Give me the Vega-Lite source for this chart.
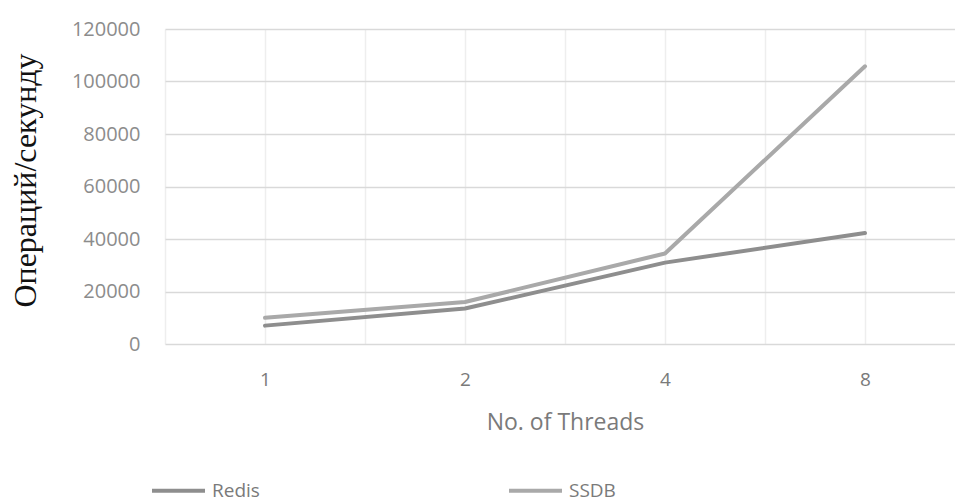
{
  "$schema": "https://vega.github.io/schema/vega-lite/v6.json",
  "autosize": "none",
  "width": 800,
  "height": 315,
  "padding": {"left": 165, "top": 29, "right": 0, "bottom": 160},
  "background": "white",
  "config": {"view": {"stroke": null}},
  "data": {
    "values": [
      {"threads": 1, "db": "Redis", "ops": 7000},
      {"threads": 2, "db": "Redis", "ops": 13500},
      {"threads": 4, "db": "Redis", "ops": 31000},
      {"threads": 8, "db": "Redis", "ops": 42300},
      {"threads": 1, "db": "SSDB", "ops": 10000},
      {"threads": 2, "db": "SSDB", "ops": 16000},
      {"threads": 4, "db": "SSDB", "ops": 34500},
      {"threads": 8, "db": "SSDB", "ops": 105800}
    ]
  },
  "mark": {"type": "line", "strokeWidth": 4, "strokeCap": "round", "strokeJoin": "round"},
  "encoding": {
    "x": {
      "field": "threads",
      "type": "quantitative",
      "scale": {"type": "log", "base": 2, "domain": [0.70710678, 11.3137085], "nice": false},
      "axis": {
        "values": [0.70710678, 1, 1.41421356, 2, 2.82842712, 4, 5.65685425, 8, 11.3137085],
        "labelExpr": "indexof([1,2,4,8], datum.value) >= 0 ? datum.value : ''",
        "labelOverlap": false,
        "labelBound": false,
        "labelFlush": false,
        "grid": true,
        "gridColor": "#eeeeee",
        "gridWidth": 1.5,
        "domain": false,
        "ticks": false,
        "labelFont": "Open Sans",
        "labelFontSize": 19,
        "labelColor": "#7a7a7a",
        "labelPadding": 26,
        "title": "No. of Threads",
        "titleFont": "Open Sans",
        "titleFontSize": 23,
        "titleFontWeight": "normal",
        "titleColor": "#7a7a7a",
        "titlePadding": 22
      }
    },
    "y": {
      "field": "ops",
      "type": "quantitative",
      "scale": {"domain": [0, 120000], "nice": false},
      "axis": {
        "values": [0, 20000, 40000, 60000, 80000, 100000, 120000],
        "format": "d",
        "grid": true,
        "gridColor": "#d9d9d9",
        "gridWidth": 1.5,
        "domain": false,
        "ticks": false,
        "labelFont": "Open Sans",
        "labelFontSize": 20,
        "labelColor": "#8c8c8c",
        "labelPadding": 25,
        "title": "Операций/секунду",
        "titleFont": "Liberation Serif",
        "titleFontSize": 32,
        "titleFontWeight": "normal",
        "titleColor": "#111111",
        "titleX": -140,
        "titleY": 151,
        "titleBaseline": "middle",
        "titleAlign": "center"
      }
    },
    "color": {
      "field": "db",
      "type": "nominal",
      "scale": {"domain": ["Redis", "SSDB"], "range": ["#8e8e8e", "#a9a9a9"]},
      "legend": {
        "title": null,
        "orient": "none",
        "legendX": -15,
        "legendY": 433,
        "direction": "horizontal",
        "columns": 2,
        "columnPadding": 241,
        "symbolType": "stroke",
        "symbolSize": 2809,
        "symbolStrokeWidth": 4,
        "labelFont": "Open Sans",
        "labelFontSize": 19,
        "labelColor": "#7a7a7a",
        "labelOffset": 5
      }
    }
  }
}
